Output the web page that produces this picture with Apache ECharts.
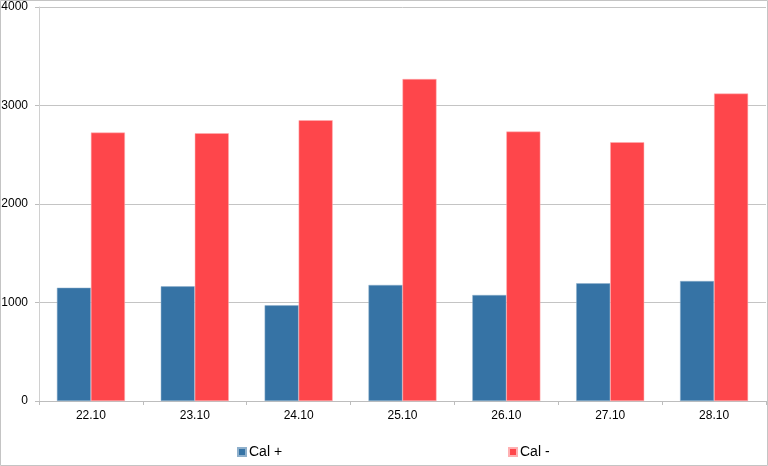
<!DOCTYPE html>
<html><head><meta charset="utf-8">
<script src="https://cdn.jsdelivr.net/npm/echarts@6/dist/echarts.min.js"></script>
<style>html,body{margin:0;padding:0;background:#fff}#c{width:768px;height:466px}</style>
</head><body><div id="c"></div>
<script>
const categories = ['22.10','23.10','24.10','25.10','26.10','27.10','28.10'];
const calPlus = [1150, 1164, 971, 1178, 1076, 1195, 1218];
const calMinus = [2725, 2718, 2850, 3269, 2735, 2627, 3121];
const yTicks = [0, 1000, 2000, 3000, 4000];

const chart = echarts.init(document.getElementById('c'), null, {renderer:'canvas'});
const font = "'Liberation Sans', Arial, sans-serif";
chart.setOption({
  animation:false,
  backgroundColor:'#fff',
  graphic:[{type:'rect', shape:{x:0.5,y:0.5,width:767,height:465}, style:{fill:'none', stroke:'#c4c4c4', lineWidth:1}, z:100}],
  grid:{left:39, right:2, top:7, bottom:65, containLabel:false, outerBoundsMode:'none'},
  legend:[
    {data:['Cal +'], left:232, top:440, itemWidth:8, itemHeight:8, icon:'rect', itemGap:4,
     textStyle:{fontFamily:font, fontSize:14, color:'#000', padding:[0,0,0,-2]}},
    {data:['Cal -'], left:503, top:440, itemWidth:8, itemHeight:8, icon:'rect', itemGap:4,
     textStyle:{fontFamily:font, fontSize:14, color:'#000', padding:[0,0,0,-2]}}
  ],
  xAxis:{type:'category', data:categories,
    axisLine:{lineStyle:{color:'#bdbdbd'}},
    axisTick:{show:true, length:4, lineStyle:{color:'#bdbdbd'}},
    axisLabel:{fontFamily:font, fontSize:12, color:'#000', margin:9}},
  yAxis:{type:'value', min:yTicks[0], max:yTicks[yTicks.length-1], interval:1000,
    axisLine:{show:true, lineStyle:{color:'#d0d0d0'}},
    axisTick:{show:true, length:4, lineStyle:{color:'#bdbdbd'}},
    splitLine:{lineStyle:{color:'#c4c4c4'}},
    axisLabel:{fontFamily:font, fontSize:12, color:'#000', margin:11, formatter:v => String(v)}},
  series:[
    {name:'Cal +', type:'bar', data:calPlus, barWidth:34, barGap:'0%',
     itemStyle:{color:'#3673a5', borderColor:'#8fb0cc', borderWidth:0.5}},
    {name:'Cal -', type:'bar', data:calMinus, barWidth:34, barGap:'0%',
     itemStyle:{color:'#fe464b', borderColor:'#ffb0b2', borderWidth:0.5}}
  ]
});
</script></body></html>
